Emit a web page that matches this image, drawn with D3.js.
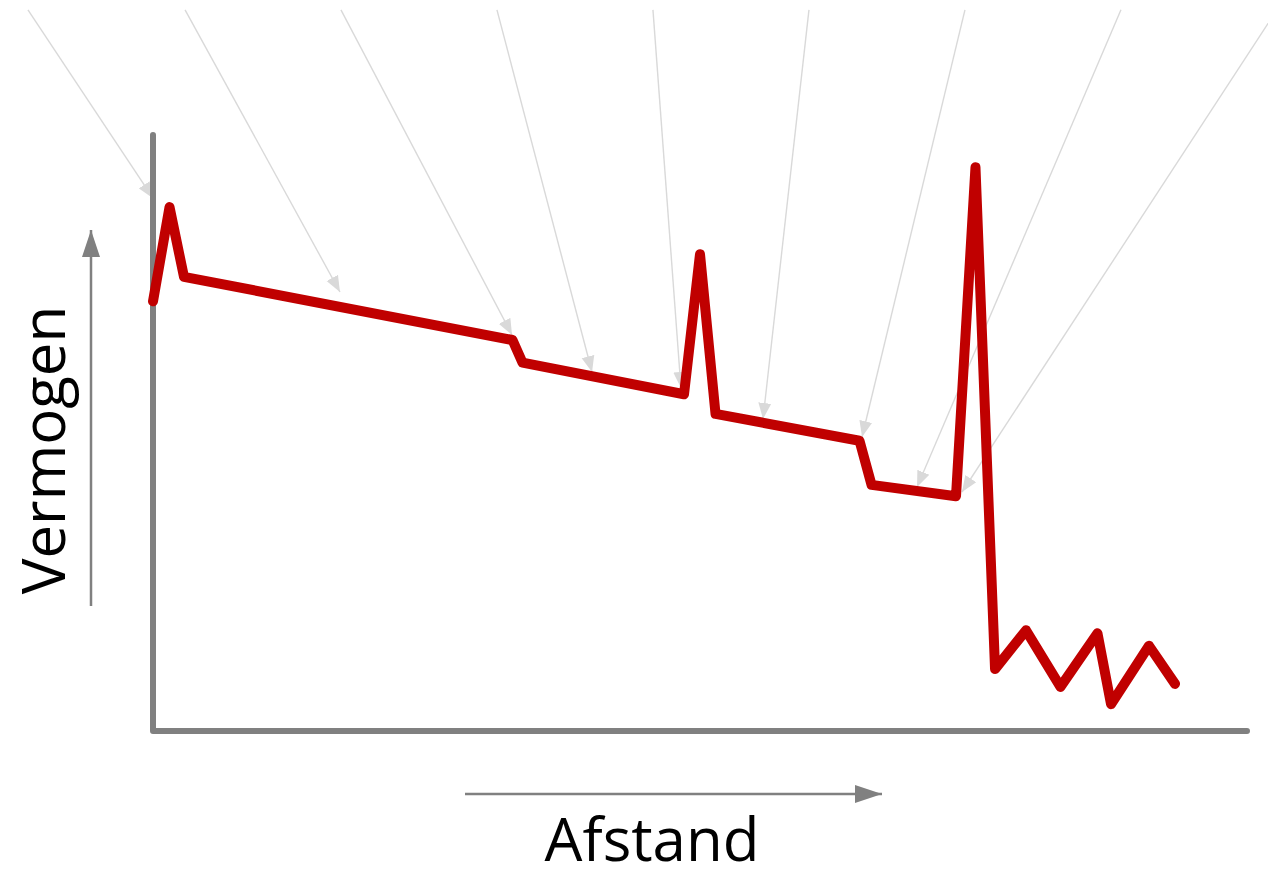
<!DOCTYPE html>
<html>
<head>
<meta charset="utf-8">
<script src="https://cdn.jsdelivr.net/npm/d3@7"></script>
<style>
  html, body { margin: 0; padding: 0; background: #fff; }
  svg { display: block; }
</style>
</head>
<body>
<svg id="chart" width="1268" height="869"></svg>
<script>
// Distance (x) and power (y) of the red signal line, in relative units
const distance = [0, 1.51, 2.83, 32.86, 33.78, 48.54, 50.0, 51.42, 64.58, 65.68, 73.40, 75.18, 76.97, 79.80, 82.95, 86.33, 87.57, 91.04, 93.42];
const power    = [72.1, 87.9, 76.2, 65.6, 61.8, 56.5, 80.0, 53.2, 48.7, 41.3, 39.4, 94.6, 10.4, 16.9, 7.4, 16.4, 4.5, 14.3, 7.9];

// Incoming grey arrows: start (above plot) and target points
const arrowStartX = [-11.43, 2.93, 17.18, 31.44, 45.70, 59.96, 74.22, 88.48, 102.74];
const arrowStartY = [121, 121, 121, 121, 121, 121, 121, 121, 121];
const arrowEndX   = [0, 17.09, 32.82, 40.13, 48.26, 55.76, 64.81, 69.84, 73.95];
const arrowEndY   = [89.4, 73.66, 66.44, 60.23, 57.55, 52.35, 49.33, 40.94, 40.10];

const xLabel = "Afstand";
const yLabel = "Vermogen";

const svg = d3.select("#chart");
const x = d3.scaleLinear().domain([0, 100]).range([153, 1247]);
const y = d3.scaleLinear().domain([0, 100]).range([731, 135]);

const defs = svg.append("defs");
defs.append("marker")
  .attr("id", "lightHead")
  .attr("markerUnits", "userSpaceOnUse")
  .attr("viewBox", "-16 -7 16 14")
  .attr("refX", 0).attr("refY", 0)
  .attr("markerWidth", 16).attr("markerHeight", 14)
  .attr("orient", "auto")
  .append("path").attr("d", "M-16,-6.5L0,0L-16,6.5Z").attr("fill", "#d9d9d9");
defs.append("marker")
  .attr("id", "darkHead")
  .attr("markerUnits", "userSpaceOnUse")
  .attr("viewBox", "-27 -9 27 18")
  .attr("refX", 0).attr("refY", 0)
  .attr("markerWidth", 27).attr("markerHeight", 18)
  .attr("orient", "auto")
  .append("path").attr("d", "M-27,-9L0,0L-27,9Z").attr("fill", "#808080");

// grey incoming arrows
const arrows = arrowStartX.map((d, i) => ({x0: d, y0: arrowStartY[i], x1: arrowEndX[i], y1: arrowEndY[i]}));
svg.append("g").selectAll("line").data(arrows).join("line")
  .attr("x1", d => x(d.x0)).attr("y1", d => y(d.y0))
  .attr("x2", d => x(d.x1)).attr("y2", d => y(d.y1))
  .attr("stroke", "#d9d9d9").attr("stroke-width", 1.4)
  .attr("marker-end", "url(#lightHead)");

// axes
svg.append("path")
  .attr("d", d3.line()([[x(0), y(100)], [x(0), y(0)], [x(100), y(0)]]))
  .attr("fill", "none").attr("stroke", "#808080").attr("stroke-width", 6)
  .attr("stroke-linecap", "round").attr("stroke-linejoin", "round");

// axis direction arrows
svg.append("line")
  .attr("x1", 91).attr("y1", 606).attr("x2", 91).attr("y2", 230)
  .attr("stroke", "#808080").attr("stroke-width", 2.5)
  .attr("marker-end", "url(#darkHead)");
svg.append("line")
  .attr("x1", 465).attr("y1", 794).attr("x2", 882).attr("y2", 794)
  .attr("stroke", "#808080").attr("stroke-width", 2.5)
  .attr("marker-end", "url(#darkHead)");

// labels
svg.append("text")
  .attr("x", 652).attr("y", 861)
  .attr("text-anchor", "middle")
  .attr("font-family", "'Open Sans', sans-serif")
  .attr("font-size", 60).attr("fill", "#000")
  .text(xLabel);
svg.append("text")
  .attr("transform", "translate(65,450) rotate(-90)")
  .attr("text-anchor", "middle")
  .attr("font-family", "'Open Sans', sans-serif")
  .attr("font-size", 60).attr("fill", "#000")
  .text(yLabel);

// red signal line
const pts = distance.map((d, i) => [d, power[i]]);
svg.append("path")
  .datum(pts)
  .attr("d", d3.line().x(d => x(d[0])).y(d => y(d[1])))
  .attr("fill", "none").attr("stroke", "#c00000").attr("stroke-width", 10)
  .attr("stroke-linecap", "round").attr("stroke-linejoin", "round");
</script>
</body>
</html>
